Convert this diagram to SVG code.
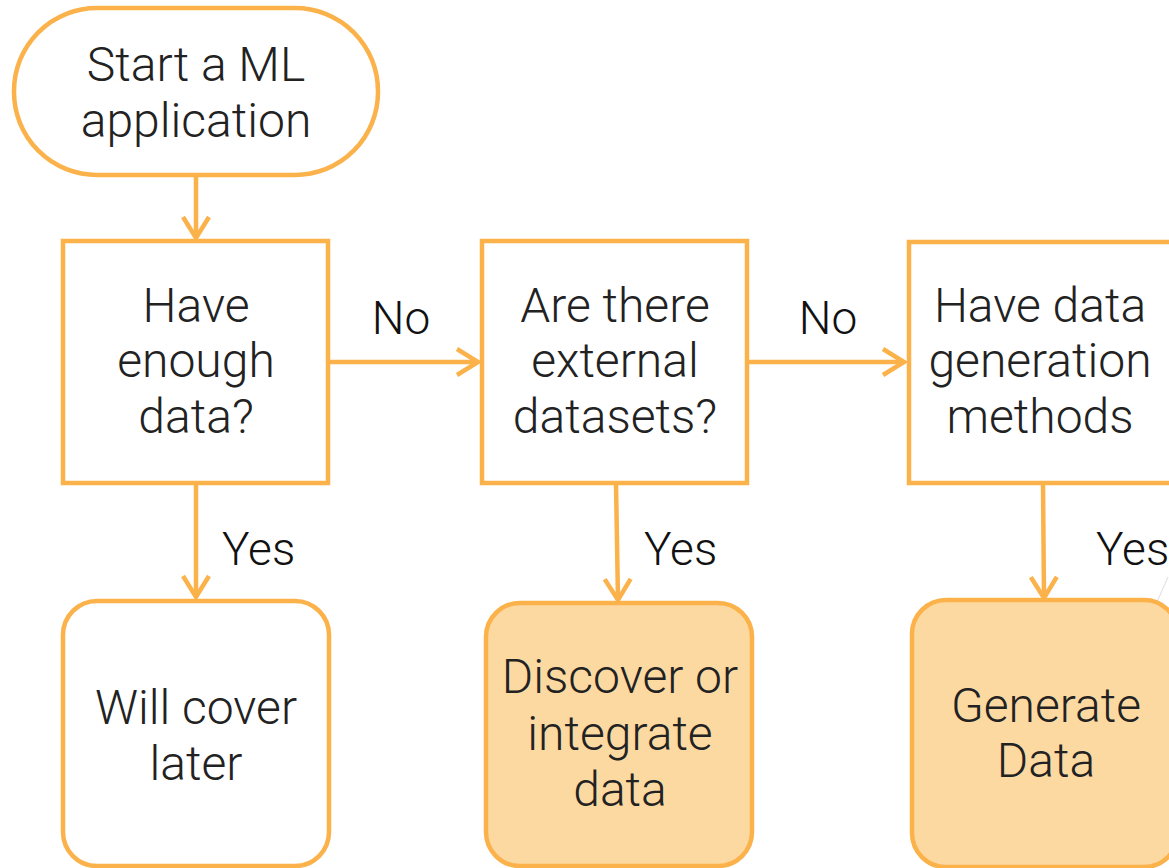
<svg xmlns="http://www.w3.org/2000/svg" width="1169" height="868" viewBox="0 0 1169 868">
<style>
.n{fill:#ffffff;stroke:#FBB24A;stroke-width:4.5}
.f{fill:#FDD9A2;stroke:#FBB24A;stroke-width:4.5}
.t{font-family:Roboto,"Liberation Sans",sans-serif;font-weight:300;font-size:48px;fill:#222222;text-anchor:middle}
.l{font-family:Roboto,"Liberation Sans",sans-serif;font-weight:300;font-size:46px;fill:#111111}
.c{fill:none;stroke:#FBB24A;stroke-width:4.5}
</style>
<defs>
<marker id="ah" markerUnits="userSpaceOnUse" markerWidth="30" markerHeight="30" viewBox="-24 -15 28 30" refX="0" refY="0" orient="auto">
<path d="M-21,-13 L0,0 L-21,13" fill="none" stroke="#FBB24A" stroke-width="4.5"/>
</marker>
</defs>
<rect width="1169" height="868" fill="#ffffff"/>
<g id="connectors">
<line class="c" x1="196" y1="175" x2="196" y2="238" marker-end="url(#ah)"/>
<line class="c" x1="328" y1="362" x2="478" y2="362" marker-end="url(#ah)"/>
<line class="c" x1="747" y1="362" x2="904" y2="362" marker-end="url(#ah)"/>
<line class="c" x1="196" y1="483" x2="196" y2="597" marker-end="url(#ah)"/>
<line class="c" x1="616" y1="483" x2="618" y2="600" marker-end="url(#ah)"/>
<line class="c" x1="1043" y1="483" x2="1044" y2="598" marker-end="url(#ah)"/>
<line x1="1168" y1="577" x2="1157" y2="602" stroke="#dddddd" stroke-width="1"/>
<text class="l" x="401" y="334" text-anchor="middle">No</text>
<text class="l" x="828" y="334" text-anchor="middle">No</text>
<text class="l" x="222" y="565">Yes</text>
<text class="l" x="644" y="565">Yes</text>
<text class="l" x="1096" y="565">Yes</text>
</g>
<g id="start">
<rect class="n" x="14" y="8" width="364" height="167" rx="83" ry="83"/>
<text class="t" x="196" y="81">Start a ML</text>
<text class="t" x="196" y="137">application</text>
</g>
<g id="enough">
<rect class="n" x="63" y="241" width="265" height="242"/>
<text class="t" x="196" y="322">Have</text>
<text class="t" x="196" y="377">enough</text>
<text class="t" x="196" y="433">data?</text>
</g>
<g id="external">
<rect class="n" x="482" y="241" width="265" height="242"/>
<text class="t" x="615" y="322">Are there</text>
<text class="t" x="615" y="377">external</text>
<text class="t" x="615" y="433">datasets?</text>
</g>
<g id="generation">
<rect class="n" x="909" y="242" width="266" height="241"/>
<text class="t" x="1040" y="322">Have data</text>
<text class="t" x="1040" y="377">generation</text>
<text class="t" x="1040" y="433">methods</text>
</g>
<g id="later">
<rect class="n" x="63" y="601" width="266" height="265" rx="34" ry="34"/>
<text class="t" x="196" y="724">Will cover</text>
<text class="t" x="196" y="780">later</text>
</g>
<g id="discover">
<rect class="f" x="486" y="603" width="266" height="263" rx="34" ry="34"/>
<text class="t" x="620" y="693">Discover or</text>
<text class="t" x="620" y="750">integrate</text>
<text class="t" x="620" y="806">data</text>
</g>
<g id="generate">
<rect class="f" x="912" y="600" width="266" height="267" rx="34" ry="34"/>
<text class="t" x="1046" y="722">Generate</text>
<text class="t" x="1046" y="777">Data</text>
</g>
</svg>
